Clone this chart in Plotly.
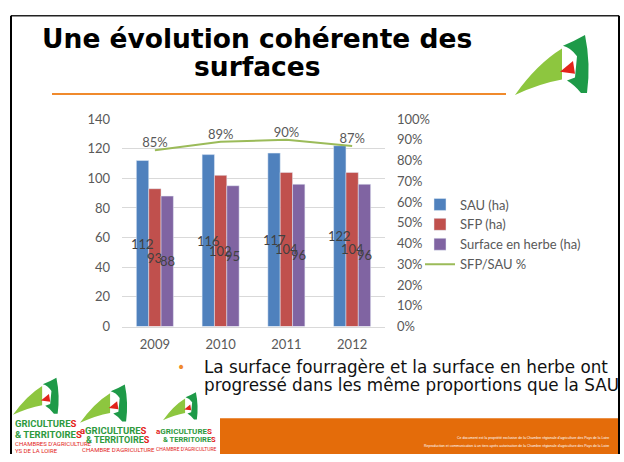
import plotly.graph_objects as go

# ---------------- data ----------------
years = ["2009", "2010", "2011", "2012"]
sau = [112, 116, 117, 122]
sfp = [93, 102, 104, 104]
herbe = [88, 95, 96, 96]
ratio = [0.85, 0.89, 0.90, 0.87]
ratio_labels = ["85%", "89%", "90%", "87%"]
left_ticks = [0, 20, 40, 60, 80, 100, 120, 140]
right_ticks = [0, 0.1, 0.2, 0.3, 0.4, 0.5, 0.6, 0.7, 0.8, 0.9, 1.0]

W, H = 624, 462


def px(x):
    return x / W


def py(y):
    return 1 - y / H


GREY = "#595959"
LBL = "#404040"
NUMFONT = "Lato"
BARGAP = 0.437

fig = go.Figure()

series = [("SAU (ha)", sau, "#4F81BD"), ("SFP (ha)", sfp, "#C0504D"),
          ("Surface en herbe (ha)", herbe, "#8064A2")]
for i, (nm, vals, col) in enumerate(series):
    fig.add_trace(go.Bar(x=years, y=vals, name=nm, marker_color=col,
                         legendgroup=str(i), hoverinfo="skip"))
fig.add_trace(go.Scatter(x=years, y=ratio, name="SFP/SAU %", yaxis="y2",
                         mode="lines+text", text=ratio_labels, textposition="top center",
                         textfont=dict(family=NUMFONT, size=13, color=GREY),
                         line=dict(color="#9BBB59", width=2), legendgroup="3",
                         cliponaxis=False, hoverinfo="skip"))

# ---------------- decorations ----------------
shapes = []
annotations = []

# bar value labels, centred on each bar (drawn above all bars)
cat_px = (385 - 122) / len(years)
bar_w = cat_px * (1 - BARGAP) / 3
for i, (nm, vals, col) in enumerate(series):
    for j, v in enumerate(vals):
        annotations.append(dict(xref="x", yref="y", x=j, y=v / 2, text=str(v),
                                showarrow=False, xshift=(i - 1) * bar_w,
                                font=dict(family=NUMFONT, size=13, color=LBL)))


def path_from(cmds):
    s = ""
    for letter, pts in cmds:
        s += letter + " " + " ".join(f"{px(x):.5f},{py(y):.5f}" for x, y in pts) + " "
    return s + "Z"


def logo(x0, y0, s):
    def t(x, y):
        return (x0 + x * s, y0 + y * s)
    light = [("M", [t(0, 62)]), ("Q", [t(22, 30), t(47, 14)]), ("L", [t(47, 46)]),
             ("Q", [t(25, 50), t(0, 62)])]
    dark = [("M", [t(48, 11)]), ("Q", [t(60, 6), t(70, 0)]), ("Q", [t(76, 30), t(72, 60)]),
            ("L", [t(66, 60)]), ("Q", [t(60, 52), t(52, 47)]), ("L", [t(60, 44)]),
            ("L", [t(62, 22)]), ("Q", [t(56, 13), t(48, 11)])]
    red = [("M", [t(58, 27)]), ("L", [t(45, 38)]), ("L", [t(60, 40)])]
    for cmds, col in ((light, "#8DC63F"), (dark, "#1E9A48"), (red, "#E2231A")):
        shapes.append(dict(type="path", xref="paper", yref="paper", path=path_from(cmds),
                           fillcolor=col, line=dict(width=0), layer="above"))


def line(x0, y0, x1, y1, color, width):
    shapes.append(dict(type="line", xref="paper", yref="paper", x0=px(x0), y0=py(y0),
                       x1=px(x1), y1=py(y1), line=dict(color=color, width=width)))


def text(x, y, s, size, color, family="DejaVu Sans", xanchor="center", bold=False):
    if bold:
        s = f"<b>{s}</b>"
    annotations.append(dict(xref="paper", yref="paper", x=px(x), y=py(y), text=s,
                            showarrow=False, xanchor=xanchor, yanchor="middle",
                            font=dict(family=family, size=size, color=color)))


# slide border
line(11, 8, 619, 8, "#222222", 1.5)
line(11, 8, 11, 462, "#000000", 2)
line(619, 8, 619, 462, "#000000", 2)
# title rule
line(52, 89, 506, 89, "#F08A2C", 2)
# footer bar
shapes.append(dict(type="rect", xref="paper", yref="paper", x0=px(220), x1=px(618),
                   y0=py(462), y1=py(425), fillcolor="#E46C0A", line=dict(width=0)))

# logos
logo(515, 28, 1.0)
logo(13, 383, 0.62)
logo(80, 390, 0.64)
logo(163, 398, 0.47)

# title
text(257, 32, "Une évolution cohérente des", 26.5, "#000000", bold=True)
text(257, 61, "surfaces", 26.5, "#000000", bold=True)

# bullet
text(181, 372, "•", 14, "#F08A2C")
text(202, 372, "La surface fourragère et la surface en herbe ont", 16.8, "#111111", xanchor="left")
text(202, 391, "progressé dans les même proportions que la SAU", 16.8, "#111111", xanchor="left")

# logo texts
G = "#2E9A3E"
R = "#E2231A"
LF = "Roboto"
text(13, 430, f"<span style='color:{G}'>GRICULTURE</span><span style='color:{R}'>S</span>", 9.5, G, LF, "left", True)
text(13, 442, f"<span style='color:{G}'>&amp; TERRITOIRE</span><span style='color:{R}'>S</span>", 9.5, G, LF, "left", True)
text(13, 451, "CHAMBRES D'AGRICULTURE", 6, R, LF, "left")
text(13, 458, "YS DE LA LOIRE", 6, R, LF, "left")

text(78, 438, f"<span style='color:{R}'>a</span><span style='color:{G}'>GRICULTURE</span><span style='color:{R}'>S</span>", 9.5, G, LF, "left", True)
text(84, 447, f"<span style='color:{G}'>&amp; TERRITOIRE</span><span style='color:{R}'>S</span>", 9, G, LF, "left", True)
text(80, 457, "CHAMBRE D'AGRICULTURE", 6, R, LF, "left")

text(154, 439, f"<span style='color:{R}'>a</span><span style='color:{G}'>GRICULTURE</span><span style='color:{R}'>S</span>", 8, G, LF, "left", True)
text(161, 447, f"<span style='color:{G}'>&amp; TERRITOIRE</span><span style='color:{R}'>S</span>", 7.5, G, LF, "left", True)
text(154, 457, "CHAMBRE D'AGRICULTURE", 5, R, LF, "left")

# footer small text
text(611, 445, "Ce document est la propriété exclusive de la Chambre régionale d'agriculture des Pays de la Loire",
     3.5, "#FFFFFF", "Liberation Sans", "right")
text(611, 454, "Reproduction et communication à un tiers après autorisation de la Chambre régionale d'agriculture des Pays de la Loire",
     3.5, "#FFFFFF", "Liberation Sans", "right")

fig.update_layout(
    width=W, height=H,
    margin=dict(l=0, r=0, t=0, b=0),
    paper_bgcolor="white", plot_bgcolor="white",
    barmode="group", bargap=BARGAP, bargroupgap=0,
    font=dict(family=NUMFONT, size=13, color=GREY),
    xaxis=dict(domain=[px(122), px(385)], type="category", showgrid=False,
               range=[-0.5, len(years) - 0.5],
               showline=True, linecolor="#D9D9D9", linewidth=1, ticks="",
               tickfont=dict(family=NUMFONT, size=13, color=GREY),
               ticklabelstandoff=6),
    yaxis=dict(domain=[py(330), py(115)], range=[0, 140], tickvals=left_ticks,
               showgrid=True, gridcolor="#D9D9D9", gridwidth=1, zeroline=False,
               showline=False, ticks="", tickfont=dict(family=NUMFONT, size=13, color=GREY),
               ticklabelstandoff=11),
    yaxis2=dict(overlaying="y", side="right", range=[0, 1], tickvals=right_ticks,
                tickformat=".0%", showgrid=False, zeroline=False, showline=False, ticks="",
                tickfont=dict(family=NUMFONT, size=13, color=GREY),
                ticklabelstandoff=11, anchor="x"),
    legend=dict(x=px(420), y=py(188), xanchor="left", yanchor="top",
                font=dict(family=NUMFONT, size=13, color=GREY),
                bgcolor="rgba(0,0,0,0)", tracegroupgap=5, traceorder="normal"),
    shapes=shapes,
    annotations=annotations,
)

fig.write_html(
    "out.html",
    config={"displayModeBar": False},
    post_script=("var d=document.documentElement;d.style.margin='0';d.style.padding='0';"
                 "d.style.overflow='hidden';document.body.style.margin='0';"
                 "document.body.style.padding='0';document.body.style.overflow='hidden';"
                 "var g=document.getElementsByClassName('plotly-graph-div')[0];"
                 "g.style.position='fixed';g.style.left='0px';g.style.top='0px';"),
)
